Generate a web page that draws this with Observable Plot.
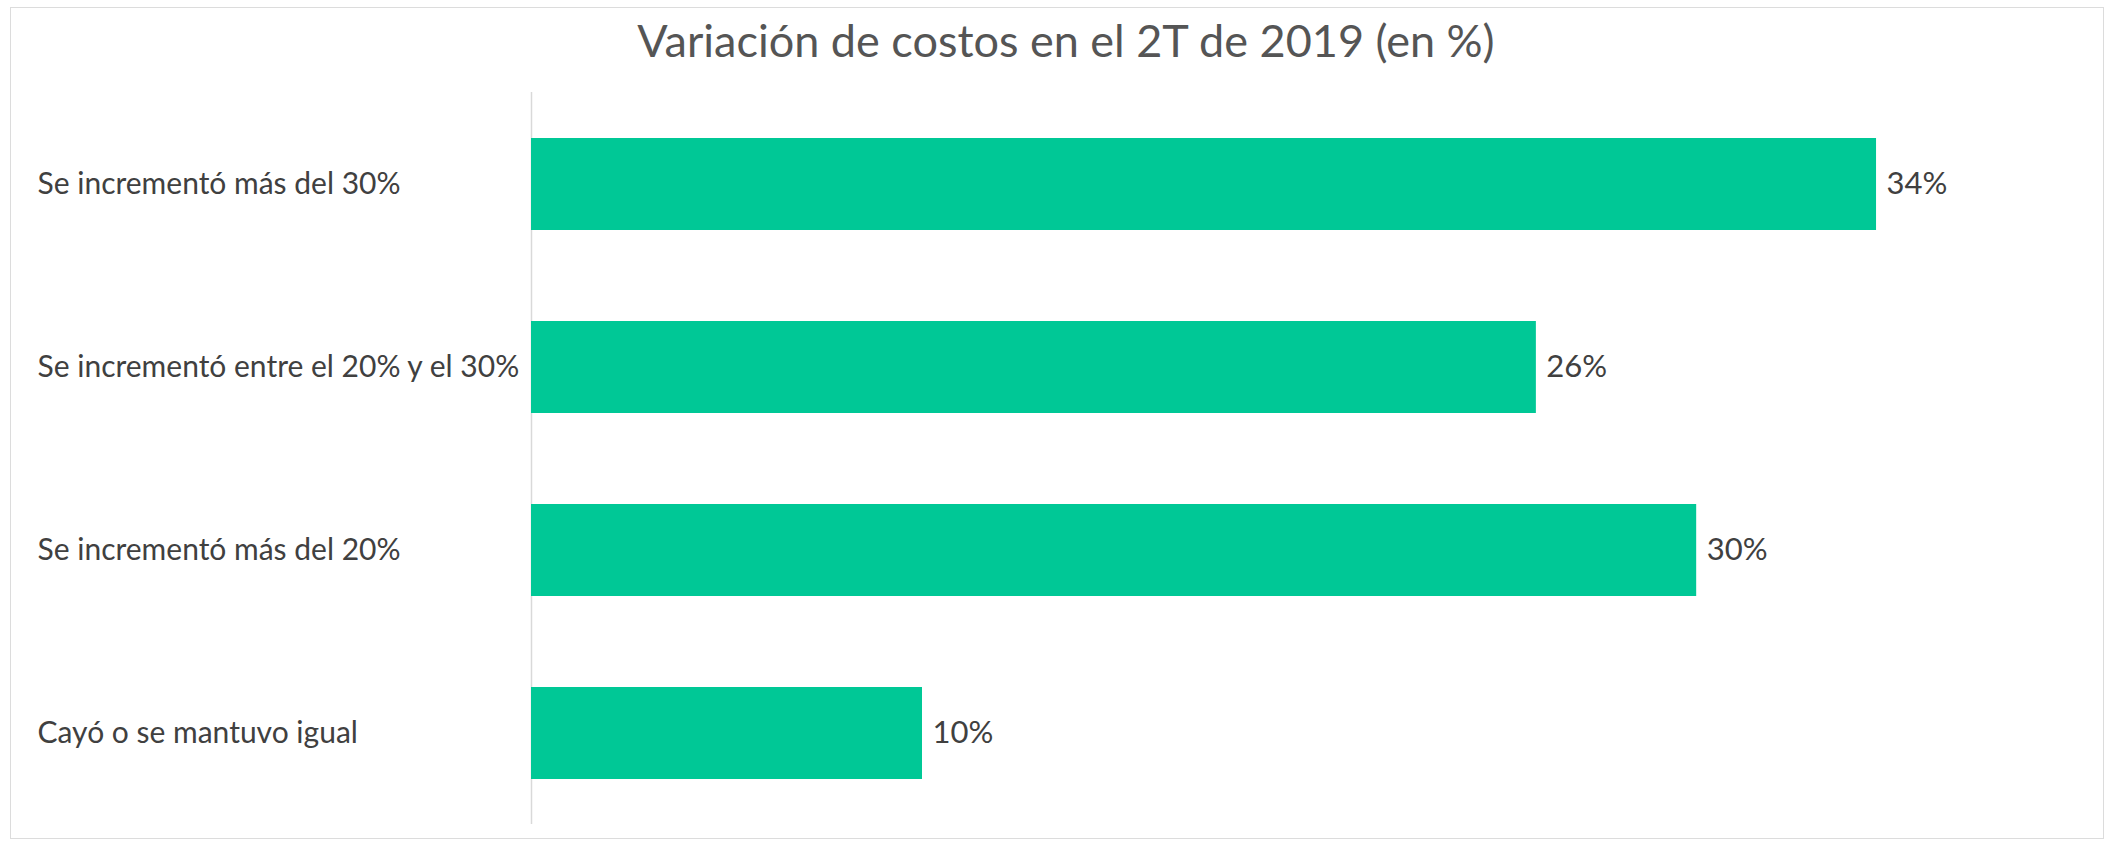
<!DOCTYPE html>
<html>
<head>
<meta charset="utf-8">
<script src="https://cdn.jsdelivr.net/npm/d3@7"></script>
<script src="https://cdn.jsdelivr.net/npm/@observablehq/plot@0.6"></script>
<style>
  html, body { margin: 0; padding: 0; background: #ffffff; }
  body { position: relative; width: 2119px; height: 847px; overflow: hidden; font-family: Lato, "Open Sans", sans-serif; }
  #frame { position: absolute; left: 10px; top: 7px; width: 2094px; height: 832px; border: 1px solid #dcdcdc; box-sizing: border-box; }
  #title { position: absolute; left: 0; top: 0; width: 2132px; height: 80px; line-height: 80px; text-align: center; font-size: 45px; color: #555555; }
  #chart { position: absolute; left: 0; top: 82px; }
</style>
</head>
<body>
<div id="frame"></div>
<div id="title">Variación de costos en el 2T de 2019 (en %)</div>
<div id="chart"></div>
<script>
const categories = [
  "Se incrementó más del 30%",
  "Se incrementó entre el 20% y el 30%",
  "Se incrementó más del 20%",
  "Cayó o se mantuvo igual"
];
const values = [34.4, 25.7, 29.8, 10.0];
const valueLabels = ["34%", "26%", "30%", "10%"];

const data = categories.map((c, i) => ({category: c, value: values[i], label: valueLabels[i]}));

const chart = Plot.plot({
  width: 2119,
  height: 756,
  marginLeft: 531,
  marginRight: 24,
  marginTop: 10,
  marginBottom: 14,
  style: {fontFamily: "Lato, 'Open Sans', sans-serif", background: "transparent"},
  x: {domain: [0, 40], axis: null},
  y: {domain: categories, paddingInner: 0.5, paddingOuter: 0.25, label: null},
  marks: [
    Plot.ruleX([0], {stroke: "#d9d9d9", strokeWidth: 1.5}),
    Plot.barX(data, {x: "value", y: "category", fill: "#00c896"}),
    Plot.text(data, {x: "value", y: "category", text: "label", textAnchor: "start", dx: 10, fill: "#404040", fontSize: 31}),
    Plot.axisY({tickSize: 0, tickPadding: 0, textAnchor: "start", dx: -494, fontSize: 30, color: "#404040", label: null})
  ]
});
document.getElementById("chart").appendChild(chart);
</script>
</body>
</html>
